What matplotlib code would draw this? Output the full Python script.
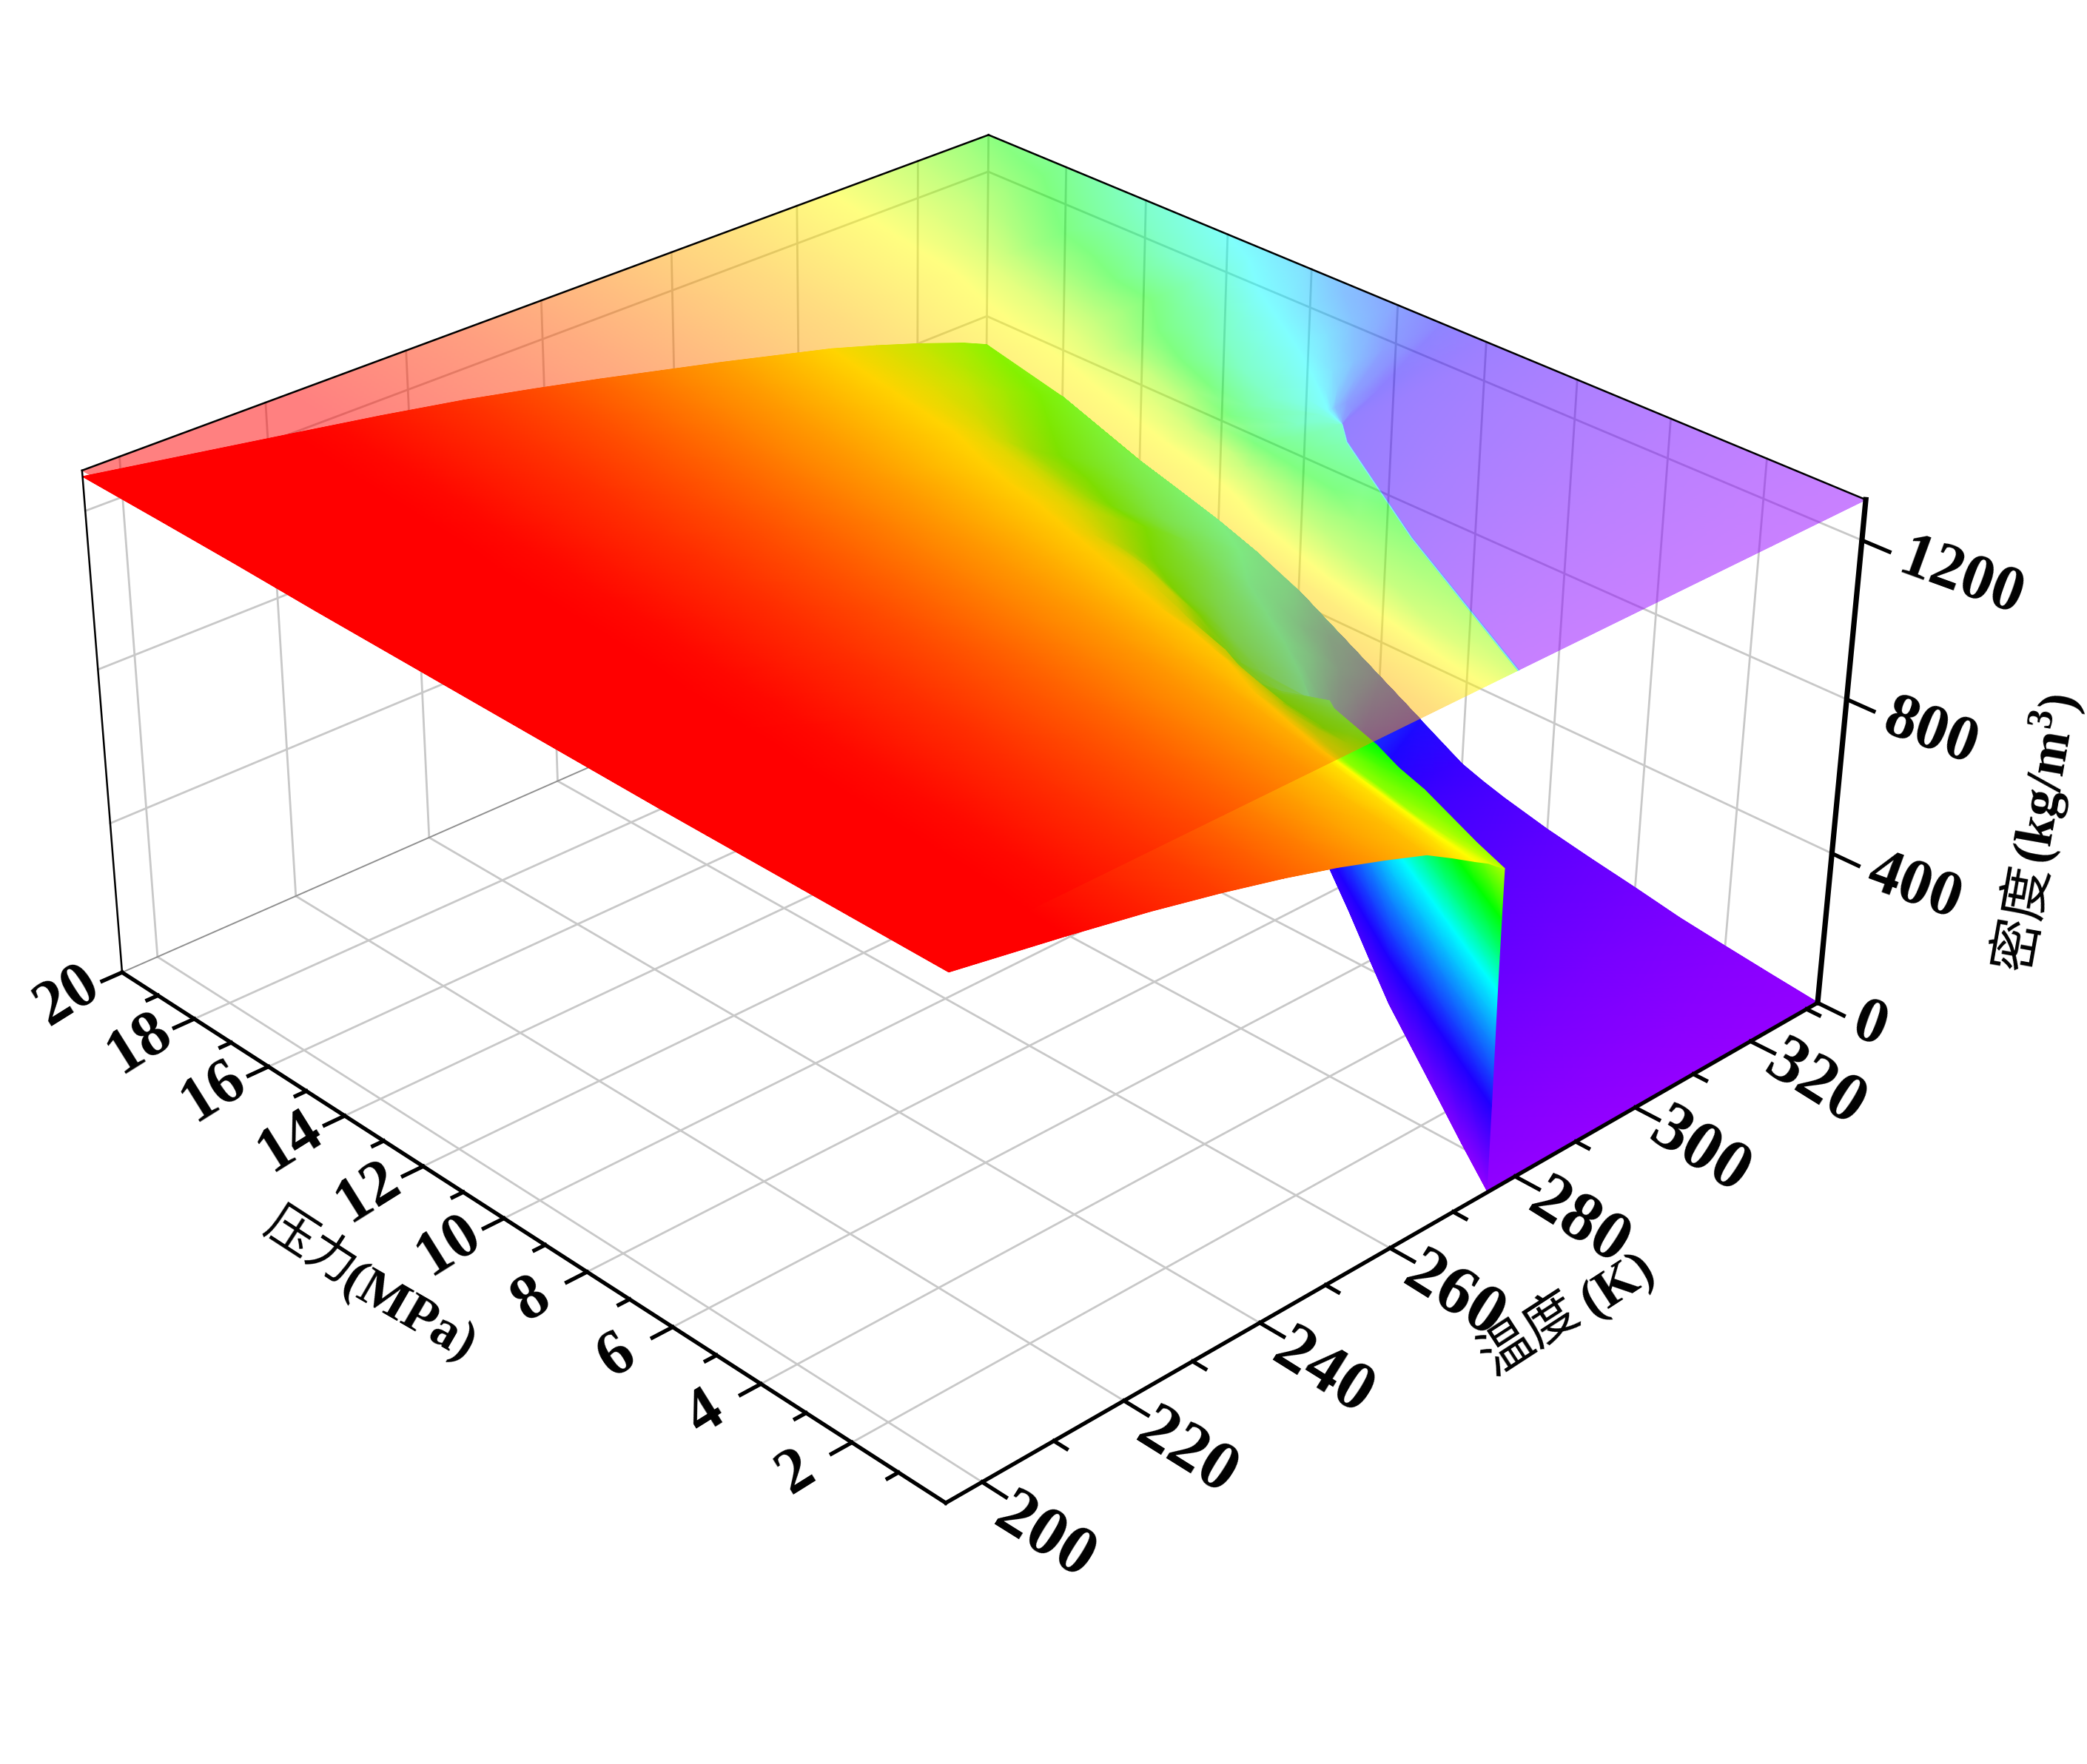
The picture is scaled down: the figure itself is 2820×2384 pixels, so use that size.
import numpy as np
import matplotlib
matplotlib.use("Agg")
import matplotlib.pyplot as plt
from matplotlib.collections import QuadMesh
from matplotlib.colors import LinearSegmentedColormap, Normalize
from mpl_toolkits.mplot3d import proj3d

W, H = 2820, 2384
t_min, t_max = 195, 332
rho_max = 1300

# every row of t_table holds, for one pressure, the temperature of each column of the
# density tables below. short rows end at t_max with rho_at_tmax.
pressure = [20, 18, 16, 15, 14, 13, 12, 11, 10, 9, 8, 7.5, 7, 6, 5, 4, 3, 2, 1, 0]
rho_at_tmin = [1285, 1282, 1278, 1275, 1272, 1270, 1268, 1266, 1264, 1262, 1260, 1259, 1258, 1256, 1255, 1254, 1253, 1252, 1251, 1250]
rho_at_tmax = [720, 670, 590, 558, 525, 485, 435, 370, 305, 240, 175, 155, 138, 110, 88, 68, 46, 30, 15, 1]
rho_high = [1200, 1160, 1120, 1080, 1040, 1000, 960, 920, 880]
rho_mid = [
    [840, 800, 750, 700, 600], [840, 800, 750, 700, 600], [840, 800, 750, 700, 600], [840, 800, 750, 700, 600],
    [840, 800, 750, 700, 600], [840, 800, 750, 700, 600], [840, 800, 750, 700, 600], [840, 800, 750, 700, 600],
    [840, 800, 750, 700, 600],
    [820, 760, 700, 640, 600],
    [800, 700, 600, 570, 545],
    [800, 700, 590, 570, 545],
    [800, 700, 620, 590, 555],
    [800, 700, 660, 620, 570],
    [800, 745, 700, 650, 590],
    [800, 755, 730, 690, 600],
    [800, 775, 760, 700, 600],
    [825, 800, 780, 700, 600],
    [840, 820, 800, 700, 600],
    [860, 840, 825, 700, 600],
]
rho_low = [520, 450, 380, 300, 226]
rho_gas = [
    [], [], [], [], [], [], [], [], [], [],
    [212, 198, 185],
    [210, 185, 165],
    [195, 170, 150],
    [170, 148, 122],
    [140, 120, 100],
    [112, 95, 80],
    [85, 68, 56],
    [58, 45, 37],
    [30, 25, 20],
    [6, 4, 2],
]
t_table = [
    [223, 236, 248, 258.5, 268.5, 278, 287.5, 296.5, 305.5, 313, 320, 328],
    [221.5, 234.5, 246.5, 257, 266.5, 276, 285, 293.5, 303, 310, 316, 322, 328],
    [220.5, 233, 245, 255, 264.5, 273.5, 282.5, 291, 300.5, 305.5, 309, 313, 318, 330],
    [220, 232.5, 244, 254, 263.5, 272.5, 281, 289, 298, 303.5, 307, 311, 316, 326],
    [219, 232, 243, 253.5, 262.5, 271.5, 280, 288, 296, 301.5, 305, 309, 313, 322],
    [218.5, 231, 242.5, 252.5, 261.5, 270.5, 278.5, 286.5, 294.5, 299.5, 303, 307.5, 312, 320, 328.5],
    [218, 230.5, 241.5, 251.5, 260.5, 269, 277.5, 285, 292.5, 296.5, 299.5, 303, 306.5, 316, 323, 331],
    [217.5, 230, 241, 250.5, 259.5, 268, 276, 283.5, 290.5, 295, 298, 300.5, 303, 310.5, 319, 324.5, 330],
    [217, 229, 240, 250, 258.5, 267, 275, 282, 288.5, 292.5, 295.5, 298, 300.5, 306, 315, 320, 324.5],
    [216, 228.5, 239, 249, 257.5, 266, 274, 280.5, 286.5, 291, 293.5, 296.5, 300, 303, 310.5, 313.5, 317, 322],
    [215.5, 227.5, 238.5, 248, 257, 265, 272.5, 279, 285, 290, 293.5, 300.5, 304, 305, 305.5, 306.1, 306.6, 308.5, 314, 318, 322, 327],
    [215, 227, 238, 247.5, 256.5, 264.5, 272, 278, 284, 288.5, 293, 304, 304.02, 304.04, 304.06, 304.08, 304.1, 304.15, 304.2, 304.25, 312, 322],
    [215, 227, 237.5, 247, 256, 264, 271.5, 277.5, 283, 287.5, 292.5, 301, 301.03, 301.06, 301.1, 301.15, 301.2, 301.25, 301.3, 301.35, 310, 322],
    [214, 226, 237, 246, 255, 262.5, 270, 276, 280, 285, 291.5, 297, 297.03, 297.06, 297.1, 297.15, 297.2, 297.25, 297.3, 297.4, 306, 320],
    [213.5, 225.5, 236, 245.5, 254, 261.5, 268.5, 274.5, 278, 283, 288, 293, 293.03, 293.06, 293.1, 293.15, 293.2, 293.25, 293.3, 293.4, 304, 318],
    [213, 225, 235, 244.5, 253, 260.5, 267.5, 273, 276, 281, 286, 289, 289.03, 289.06, 289.1, 289.15, 289.2, 289.25, 289.3, 289.4, 302, 316],
    [212.5, 224, 234.5, 243.5, 252, 259.5, 266.5, 271.5, 274.5, 279.5, 283, 285.5, 285.53, 285.56, 285.6, 285.65, 285.7, 285.75, 285.8, 285.9, 300, 316],
    [212, 223.5, 233.5, 243, 251, 258.5, 265, 270, 273, 276.5, 279.5, 282, 282.03, 282.06, 282.1, 282.15, 282.2, 282.25, 282.3, 282.4, 298, 316],
    [211, 222.5, 233, 242, 250, 257, 264, 268.5, 271.5, 274.5, 276.5, 278.5, 278.53, 278.56, 278.6, 278.65, 278.7, 278.75, 278.8, 278.9, 296, 316],
    [210.5, 222, 232, 241, 249, 256, 262.5, 266.5, 270.3, 272.3, 273.8, 275, 275.03, 275.06, 275.1, 275.15, 275.2, 275.25, 275.3, 275.4, 295, 316],
]

t_major = [200, 220, 240, 260, 280, 300, 320]
t_minor = [210, 230, 250, 270, 290, 310, 330]
p_major = [2, 4, 6, 8, 10, 12, 14, 16, 18, 20]
p_minor = [1, 3, 5, 7, 9, 11, 13, 15, 17, 19]
z_major = [0, 400, 800, 1200]

stops = [(0, (148/255, 0, 1)), (226/1300, (30/255, 0, 1)), (520/1300, (0, 1, 1)), (700/1300, (0, 1, 0)),
         (880/1300, (1, 1, 0)), (1200/1300, (1, 0, 0)), (1, (1, 0, 0))]
rainbow = LinearSegmentedColormap.from_list('rainbow_origin', stops, N=512)


class GouraudSurface(QuadMesh):
    # smooth shaded mesh for the 3d axes, drawn row by row from back to front
    def __init__(self, xs, ys, zs, **kw):
        super().__init__(np.zeros((*np.shape(xs), 2)), shading='gouraud', **kw)
        self.xyz = np.asarray(xs, float), np.asarray(ys, float), np.asarray(zs, float)

    def do_3d_projection(self):
        shape = self.xyz[0].shape
        x, y, z = proj3d.proj_transform(*[a.ravel() for a in self.xyz], self.axes.M)
        self._coordinates = np.dstack([np.reshape(x, shape), np.reshape(y, shape)])
        return np.min(z)


def solid(img, dpi):
    # closes the hairline seams between the triangles
    out = img.copy()
    out[..., 3] = np.clip(img[..., 3] * 1.4, 0, 1)
    return out, 0, 0


def half(img, dpi):
    out = img.copy()
    out[..., 3] = np.clip(img[..., 3] * 1.4, 0, 1) * 0.5
    return out, 0, 0


plt.rcParams['font.family'] = ['Liberation Serif', 'Noto Sans CJK SC']
plt.rcParams['mathtext.fontset'] = 'custom'
plt.rcParams['mathtext.bf'] = 'Liberation Serif:bold'
fig = plt.figure(figsize=(W/200, H/200), dpi=200)
ax = fig.add_subplot(projection='3d', computed_zorder=False)
ax.set_xlim(t_min, t_max)
ax.set_ylim(0, 20)
ax.set_zlim(0, rho_max)
ax.set_axis_off()
ax.view_init(29.2378, -133.9134, -0.4373)
ax.set_box_aspect((1.0907, 1.0920, 0.5109))
ax.set_proj_type('persp', focal_length=0.5768)
s, tx, ty = 12988.32, 1310.02, 1003.70
ax.set_position([(tx - 0.095*s)/W, (H - ty - 0.095*s)/H, s*0.185/W, s*0.185/H])

# one column for t_min, one per table column and one for t_max
n_col = len(rho_high) + 5 + len(rho_low) + 3 + 2
grid_t = np.full((len(pressure), n_col), float(t_max))
grid_rho = np.zeros((len(pressure), n_col))
for i, row in enumerate(t_table):
    values = rho_high + rho_mid[i] + rho_low + rho_gas[i]
    grid_t[i, 0] = t_min
    grid_t[i, 1:len(row)+1] = row
    grid_rho[i, 0] = rho_at_tmin[i]
    grid_rho[i, 1:len(row)+1] = values[:len(row)]
    grid_rho[i, len(row)+1:] = rho_at_tmax[i]


def mesh(z, flt, zorder):
    T = grid_t[:, ::-1]
    Pm = np.tile(np.array(pressure, float)[:, None], (1, n_col))
    m = GouraudSurface(T, Pm, z[:, ::-1], cmap=rainbow, norm=Normalize(0, rho_max), zorder=zorder)
    m.set_array(grid_rho[:, ::-1].ravel())
    ax.add_collection(m, autolim=False)
    m.set_clip_on(False)
    m.set_agg_filter(flt)


mesh(grid_rho, solid, 3)
mesh(np.full(grid_rho.shape, float(rho_max)), half, 4)

# walls and floor
grid = dict(color='#c8c8c8', lw=1.0, zorder=1, clip_on=False)
for t in t_major:
    ax.plot([t, t], [0, 20], [0, 0], **grid)
    ax.plot([t, t], [20, 20], [0, rho_max], **grid)
for q in p_major[:-1]:
    ax.plot([t_min, t_max], [q, q], [0, 0], **grid)
    ax.plot([t_max, t_max], [q, q], [0, rho_max], **grid)
for z in z_major[1:]:
    ax.plot([t_min, t_max], [20, 20], [z, z], **grid)
    ax.plot([t_max, t_max], [0, 20], [z, z], **grid)
ax.plot([t_max, t_max], [20, 20], [0, rho_max], **grid)
edge = dict(color='#909090', lw=0.7, zorder=1, clip_on=False)
ax.plot([t_min, t_max], [20, 20], [0, 0], **edge)
ax.plot([t_max, t_max], [0, 20], [0, 0], **edge)

# box outline
thin = dict(color='black', lw=0.9, zorder=6, clip_on=False)
ax.plot([t_min, t_min], [20, 20], [0, rho_max], **thin)
ax.plot([t_min, t_max], [20, 20], [rho_max, rho_max], **thin)
ax.plot([t_max, t_max], [0, 20], [rho_max, rho_max], **thin)
thick = dict(color='black', lw=1.9, zorder=6, clip_on=False, solid_capstyle='projecting')
ax.plot([t_min, t_min], [0, 20], [0, 0], **thick)
ax.plot([t_min, t_max], [0, 0], [0, 0], **thick)
ax.plot([t_max, t_max], [0, 0], [0, rho_max], color='black', lw=2.6, zorder=6, clip_on=False)


def tick_text(t, q, z, txt, rot, ha, size=31):
    x, y, _ = proj3d.proj_transform(t, q, z, ax.get_proj())
    ax.text2D(x, y, txt, transform=ax.transData, fontsize=size, fontweight='bold', rotation=rot, ha=ha, va='center',
              rotation_mode='anchor', zorder=7, clip_on=False)


# ticks
for q in p_major:
    ax.plot([t_min, t_min - 2.8], [q, q], [0, 0], **thick)
    tick_text(t_min - 7.6, q, 0, str(q), 32, 'center')
for q in p_minor:
    ax.plot([t_min, t_min - 1.5], [q, q], [0, 0], **thick)
for t in t_major:
    ax.plot([t, t], [0, -0.5], [0, 0], **thick)
    tick_text(t - 1.8, -1.55, 0, str(t), -32, 'center', 34)
for t in t_minor:
    ax.plot([t, t], [0, -0.27], [0, 0], **thick)
for z in z_major:
    ax.plot([t_max, t_max], [0, -0.55], [z, z], **thick)
    tick_text(t_max, -0.78, z, str(z), -20, 'left')


def label(x, y, txt, rot, bold, size=26):
    fig.text(x/W, 1 - y/H, txt, fontsize=size, rotation=rot, ha='center', va='center', rotation_mode='anchor',
             fontweight='bold' if bold else 'normal')


label(418, 1688, '压力', -33, False, 24)
label(552, 1776, '(MPa)', -30, True)
label(2068, 1806, '温度', 33, False)
label(2187, 1737, '(K)', 33, True)
label(2734, 1241, '密度', 80, False)
label(2765, 1052, r'(kg/m$^{\mathbf{3}}$)', 80, True)

fig.savefig("out.png", dpi=200, facecolor='white')
